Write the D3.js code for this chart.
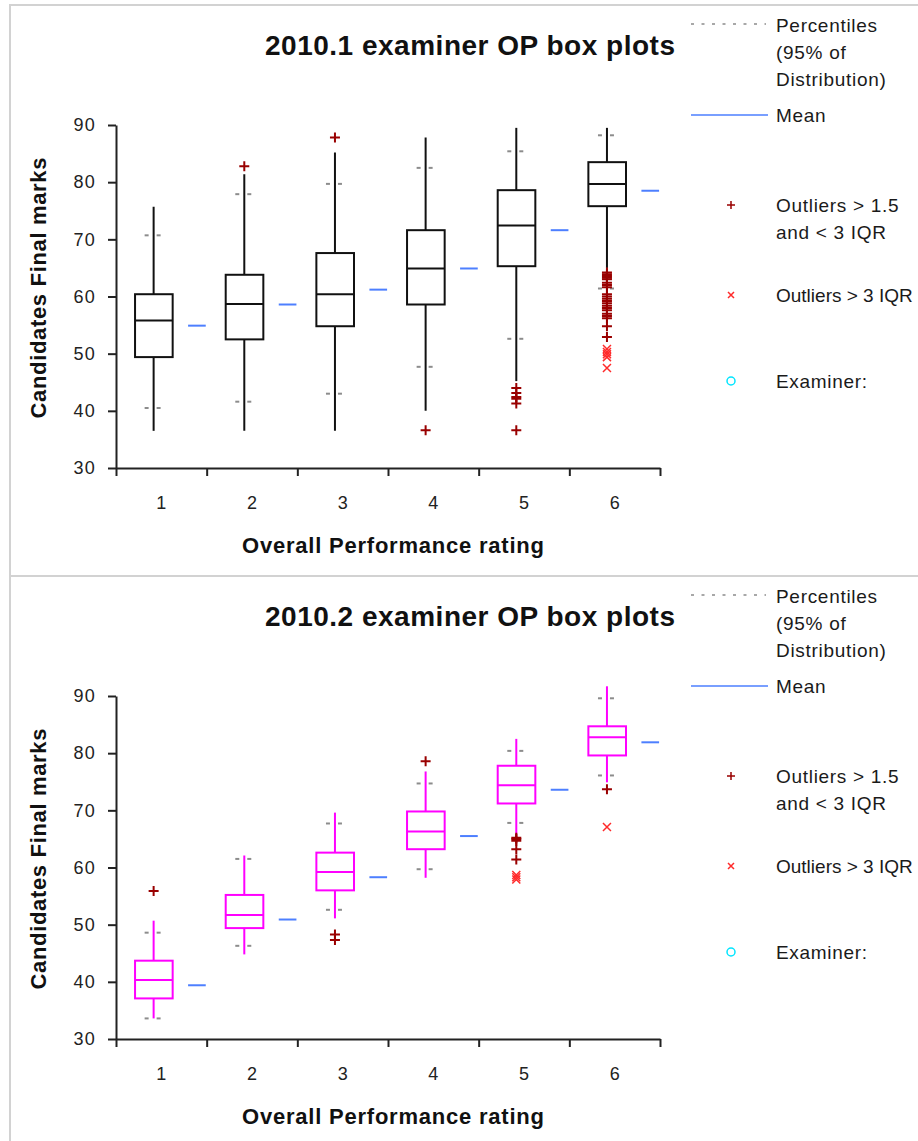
<!DOCTYPE html>
<html>
<head>
<meta charset="utf-8">
<script src="https://cdn.jsdelivr.net/npm/d3@7"></script>
<style>
  html, body { margin: 0; padding: 0; background: #fff; }
  svg { display: block; }
  text { font-family: "Liberation Sans", Arial, sans-serif; }
</style>
</head>
<body>
<svg id="chart" width="918" height="1141"></svg>
<script>
// ---------- data ----------
const categories = ["1", "2", "3", "4", "5", "6"];
const yTickValues = [30, 40, 50, 60, 70, 80, 90];
const titles = ["2010.1 examiner OP box plots", "2010.2 examiner OP box plots"];
const xAxisTitle = "Overall Performance rating";
const yAxisTitle = "Candidates Final marks";
const legendLabels = [["Percentiles", "(95% of", "Distribution)"], ["Mean"], ["Outliers > 1.5", "and < 3 IQR"], ["Outliers > 3 IQR"], ["Examiner:"]];

// 2010.1
const lowWhisker1  = [36.5, 36.5, 36.5, 40.0, 45.2, 65.0];
const q1_1         = [49.4, 52.5, 54.8, 58.6, 65.3, 75.8];
const median1      = [55.8, 58.7, 60.4, 64.9, 72.4, 79.7];
const q3_1         = [60.4, 63.8, 67.6, 71.6, 78.6, 83.5];
const highWhisker1 = [75.7, 81.4, 85.2, 87.8, 89.5, 89.5];
const pctLow1      = [40.5, 41.6, 43.0, 47.7, 52.6, 61.4];
const pctHigh1     = [70.7, 77.9, 79.7, 82.5, 85.4, 88.2];
const mean1        = [54.9, 58.6, 61.2, 64.9, 71.6, 78.5];
const outliersMild1 = [[], [82.8], [87.8], [36.6], [44.0, 43.1, 42.4, 42.1, 41.3, 36.6],
  [64.2, 63.9, 63.6, 63.3, 63.0, 62.4, 62.0, 61.6, 60.4, 60.0, 59.6, 59.2, 58.8, 58.4, 58.0, 57.6, 57.0, 56.6, 56.2, 54.8, 52.9]];
const outliersExtreme1 = [[], [], [], [], [], [50.8, 50.3, 49.9, 49.4, 47.5]];

// 2010.2
const lowWhisker2  = [33.6, 44.8, 51.1, 58.2, 65.4, 74.9];
const q1_2         = [37.1, 49.4, 56.0, 63.2, 71.2, 79.6];
const median2      = [40.3, 51.7, 59.2, 66.3, 74.4, 82.8];
const q3_2         = [43.7, 55.2, 62.6, 69.8, 77.8, 84.7];
const highWhisker2 = [50.7, 62.1, 69.6, 76.8, 82.5, 91.7];
const pctLow2      = [33.6, 46.3, 52.6, 59.7, 67.8, 76.1];
const pctHigh2     = [48.6, 61.5, 67.7, 74.7, 80.4, 89.6];
const mean2        = [39.4, 50.9, 58.3, 65.5, 73.6, 81.9];
const outliersMild2 = [[55.9], [], [48.3, 47.3], [78.6], [65.2, 65.0, 64.7, 63.2, 61.4], [73.7]];
const outliersExtreme2 = [[], [], [], [], [58.7, 58.3, 57.9], [67.1]];

function buildRows(lw, q1, med, q3, hw, pl, ph, mn, om, oe) {
  return categories.map((c, i) => ({
    cat: c, lw: lw[i], q1: q1[i], med: med[i], q3: q3[i], hw: hw[i],
    pl: pl[i], ph: ph[i], mean: mn[i], mild: om[i], extreme: oe[i]
  }));
}
const panels = [
  { title: titles[0], color: "#111111", off: 0,
    rows: buildRows(lowWhisker1, q1_1, median1, q3_1, highWhisker1, pctLow1, pctHigh1, mean1, outliersMild1, outliersExtreme1) },
  { title: titles[1], color: "#ff00ff", off: 571,
    rows: buildRows(lowWhisker2, q1_2, median2, q3_2, highWhisker2, pctLow2, pctHigh2, mean2, outliersMild2, outliersExtreme2) }
];

// ---------- drawing ----------
const svg = d3.select("#chart");
const axisColor = "#222";
const meanColor = "#4d7fff";
const mildColor = "#990000";
const extremeColor = "#ff2a2a";
const pctColor = "#8c8c8c";

const plusPath = "M-5,0H5M0,-5V5";
const crossPath = "M-4,-4L4,4M-4,4L4,-4";

panels.forEach(p => {
  const off = p.off;
  const g = svg.append("g");

  // panel frame
  g.append("rect")
    .attr("x", 10).attr("y", 5 + off)
    .attr("width", 940).attr("height", 571)
    .attr("fill", "none").attr("stroke", "#d2d2d2").attr("stroke-width", 2);

  const y = d3.scaleLinear().domain([30, 90]).range([468 + off, 125 + off]);
  const x = d3.scaleBand().domain(categories).range([116, 660]);
  const xEdge = d3.scaleLinear().domain([0, categories.length]).range([116, 660]);
  const bw = x.bandwidth();

  // title
  g.append("text")
    .attr("x", 470).attr("y", 55 + off)
    .attr("text-anchor", "middle")
    .attr("font-size", 28).attr("font-weight", "bold").attr("fill", "#111")
    .attr("textLength", 410).attr("lengthAdjust", "spacing")
    .text(p.title);

  // y axis
  const yAxis = g.append("g")
    .attr("transform", "translate(116,0)")
    .call(d3.axisLeft(y).tickValues(yTickValues).tickSizeInner(8).tickSizeOuter(0).tickPadding(12));
  yAxis.selectAll("path, line").attr("stroke", axisColor).attr("stroke-width", 2);
  yAxis.selectAll("text").attr("font-size", 18).attr("fill", "#222")
    .attr("font-family", "'Liberation Sans', Arial, sans-serif").attr("letter-spacing", 1.2);

  // x axis (ticks at band edges)
  const xAxisLine = g.append("g")
    .attr("transform", `translate(0,${468 + off})`)
    .call(d3.axisBottom(xEdge).tickValues(d3.range(0, categories.length + 1)).tickFormat("").tickSizeInner(8).tickSizeOuter(0));
  xAxisLine.selectAll("path, line").attr("stroke", axisColor).attr("stroke-width", 2);

  const xLabels = g.append("g")
    .attr("transform", `translate(0,${468 + off})`)
    .call(d3.axisBottom(x).tickSize(0).tickPadding(28));
  xLabels.select(".domain").remove();
  xLabels.selectAll("text").attr("font-size", 18).attr("fill", "#222")
    .attr("font-family", "'Liberation Sans', Arial, sans-serif");

  // axis titles
  g.append("text")
    .attr("x", 393).attr("y", 553 + off)
    .attr("text-anchor", "middle")
    .attr("font-size", 22).attr("font-weight", "bold").attr("fill", "#111")
    .attr("textLength", 302).attr("lengthAdjust", "spacing")
    .text(xAxisTitle);
  g.append("text")
    .attr("transform", `translate(46,${288 + off}) rotate(-90)`)
    .attr("text-anchor", "middle")
    .attr("font-size", 22).attr("font-weight", "bold").attr("fill", "#111")
    .attr("textLength", 261).attr("lengthAdjust", "spacing")
    .text(yAxisTitle);

  // boxes
  const cx = d => x(d.cat) + bw * 0.415;
  const bx0 = d => x(d.cat) + bw * 0.21;
  const bx1 = d => x(d.cat) + bw * 0.625;
  const boxes = g.selectAll(".box").data(p.rows).enter().append("g");

  // whiskers
  boxes.append("line")
    .attr("x1", cx).attr("x2", cx)
    .attr("y1", d => y(d.lw)).attr("y2", d => y(d.hw))
    .attr("stroke", p.color).attr("stroke-width", 2);
  // box
  boxes.append("rect")
    .attr("x", bx0).attr("width", d => bx1(d) - bx0(d))
    .attr("y", d => y(d.q3)).attr("height", d => y(d.q1) - y(d.q3))
    .attr("fill", "#fff").attr("stroke", p.color).attr("stroke-width", 2);
  // median
  boxes.append("line")
    .attr("x1", bx0).attr("x2", bx1)
    .attr("y1", d => y(d.med)).attr("y2", d => y(d.med))
    .attr("stroke", p.color).attr("stroke-width", 2);

  // percentile dashes
  ["pl", "ph"].forEach(k => {
    [[-9, -5], [3, 7]].forEach(([a, b]) => {
      boxes.append("line")
        .attr("x1", d => cx(d) + a).attr("x2", d => cx(d) + b)
        .attr("y1", d => y(d[k])).attr("y2", d => y(d[k]))
        .attr("stroke", pctColor).attr("stroke-width", 2);
    });
  });

  // mean
  boxes.append("line")
    .attr("x1", d => x(d.cat) + bw * 0.795).attr("x2", d => x(d.cat) + bw * 0.99)
    .attr("y1", d => y(d.mean)).attr("y2", d => y(d.mean))
    .attr("stroke", meanColor).attr("stroke-width", 2);

  // outliers
  boxes.each(function (d) {
    const sel = d3.select(this);
    sel.selectAll(".mild").data(d.mild).enter().append("path")
      .attr("d", plusPath)
      .attr("transform", v => `translate(${cx(d)},${y(v)})`)
      .attr("stroke", mildColor).attr("stroke-width", 2).attr("fill", "none");
    sel.selectAll(".ext").data(d.extreme).enter().append("path")
      .attr("d", crossPath)
      .attr("transform", v => `translate(${cx(d)},${y(v)})`)
      .attr("stroke", extremeColor).attr("stroke-width", 1.5).attr("fill", "none");
  });

  // legend
  const lg = g.append("g");
  const tx = 776;
  const addText = (lines, y0, spacing = 0.7) => {
    lines.forEach((t, i) => {
      lg.append("text")
        .attr("x", tx).attr("y", y0 + i * 27 + off)
        .attr("font-size", 19).attr("fill", "#1a1a1a").attr("letter-spacing", spacing)
        .text(t);
    });
  };
  lg.append("line").attr("x1", 691).attr("x2", 766).attr("y1", 24 + off).attr("y2", 24 + off)
    .attr("stroke", pctColor).attr("stroke-width", 1.5).attr("stroke-dasharray", "3,7.5");
  addText(legendLabels[0], 32);
  lg.append("line").attr("x1", 691).attr("x2", 768).attr("y1", 115 + off).attr("y2", 115 + off)
    .attr("stroke", meanColor).attr("stroke-width", 1.5);
  addText(legendLabels[1], 122);
  lg.append("path").attr("d", "M-4,0H4M0,-4V4").attr("transform", `translate(731,${205 + off})`)
    .attr("stroke", mildColor).attr("stroke-width", 1.5);
  addText(legendLabels[2], 212);
  lg.append("path").attr("d", "M-3,-3L3,3M-3,3L3,-3").attr("transform", `translate(731,${295 + off})`)
    .attr("stroke", extremeColor).attr("stroke-width", 1.5);
  addText(legendLabels[3], 302, 0);
  lg.append("circle").attr("cx", 731).attr("cy", 381 + off).attr("r", 4)
    .attr("fill", "none").attr("stroke", "#00e5ff").attr("stroke-width", 1.5);
  addText(legendLabels[4], 388);
});
</script>
</body>
</html>
